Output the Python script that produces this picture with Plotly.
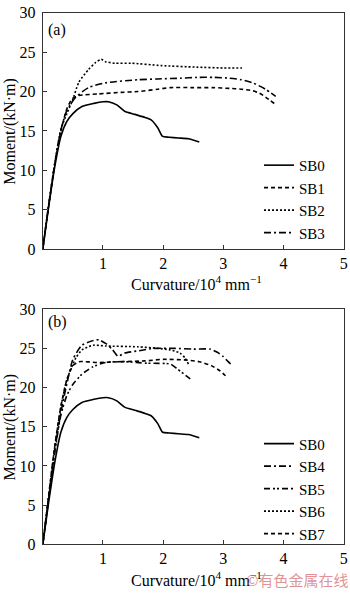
import plotly.graph_objects as go

W, H = 350, 597

# ---------------- data (curvature in 10^4 mm^-1, moment in kN·m) ----------------
sb0_x = [0, 0.1, 0.2, 0.3, 0.4, 0.5, 0.65, 0.85, 1.0, 1.09, 1.23, 1.36, 1.53, 1.7, 1.8, 1.91, 1.99, 2.1, 2.25, 2.42, 2.6]
sb0_y = [0, 5.5, 10.5, 14.3, 16.2, 17.2, 18.1, 18.5, 18.7, 18.7, 18.3, 17.5, 17.1, 16.7, 16.4, 15.4, 14.3, 14.2, 14.1, 14.0, 13.6]

sb1_x = [0, 0.1, 0.2, 0.3, 0.4, 0.49, 0.6, 0.93, 1.3, 1.58, 1.91, 2.12, 2.5, 2.83, 3.1, 3.3, 3.49, 3.6, 3.7, 3.86]
sb1_y = [0, 5.6, 10.8, 15.0, 17.8, 19.1, 19.5, 19.7, 19.9, 20.0, 20.3, 20.5, 20.5, 20.5, 20.4, 20.3, 20.1, 19.8, 19.3, 18.4]

sb2_x = [0, 0.1, 0.2, 0.3, 0.4, 0.49, 0.6, 0.76, 0.88, 0.97, 1.04, 1.2, 1.47, 1.97, 2.56, 3.0, 3.31]
sb2_y = [0, 5.8, 11.0, 15.2, 17.2, 18.8, 21.2, 22.8, 23.7, 24.1, 23.8, 23.6, 23.6, 23.3, 23.1, 23.0, 23.0]

sb3_x = [0, 0.1, 0.2, 0.3, 0.4, 0.55, 0.76, 1.04, 1.58, 1.91, 2.3, 2.56, 2.85, 3.1, 3.3, 3.49, 3.7, 3.87]
sb3_y = [0, 5.7, 10.9, 15.1, 17.6, 19.3, 20.5, 21.1, 21.5, 21.6, 21.7, 21.8, 21.8, 21.7, 21.5, 21.1, 20.3, 19.4]

sb4_x = [0, 0.1, 0.2, 0.3, 0.4, 0.5, 0.65, 0.8, 0.93, 1.05, 1.15, 1.25, 1.36, 1.6, 1.85, 2.2, 2.5, 2.78, 2.9, 2.99, 3.08, 3.15]
sb4_y = [0, 6.0, 12.0, 16.8, 20.5, 23.6, 25.4, 25.9, 26.1, 25.6, 24.9, 24.0, 24.4, 24.7, 25.0, 25.0, 24.9, 24.9, 24.5, 24.0, 23.3, 22.8]

sb5_x = [0, 0.1, 0.2, 0.3, 0.4, 0.49, 0.65, 0.82, 1.04, 1.36, 1.74, 2.12, 2.23, 2.35, 2.45]
sb5_y = [0, 6.0, 11.8, 16.5, 19.0, 20.3, 21.7, 22.6, 23.2, 23.3, 23.1, 23.0, 22.4, 21.7, 21.1]

sb6_x = [0, 0.1, 0.2, 0.3, 0.4, 0.55, 0.65, 0.84, 1.04, 1.58, 1.91, 2.12, 2.28, 2.36, 2.42]
sb6_y = [0, 6.3, 12.5, 17.5, 21.0, 23.8, 24.8, 25.4, 25.3, 25.2, 25.0, 24.8, 24.4, 23.8, 23.0]

sb7_x = [0, 0.1, 0.2, 0.3, 0.4, 0.5, 0.6, 0.9, 1.3, 1.7, 2.0, 2.4, 2.6, 2.8, 2.95, 3.05]
sb7_y = [0, 6.4, 12.6, 17.6, 21.0, 22.8, 23.3, 23.2, 23.3, 23.4, 23.6, 23.5, 23.3, 22.8, 22.1, 21.4]

x_ticks = [1, 2, 3, 4, 5]
y_ticks = [0, 5, 10, 15, 20, 25, 30]

FONT = "Liberation Serif"
LW = 1.6

def px_x(p):
    return p / W

def px_y(p):
    return 1 - p / H

fig = go.Figure()

top_series = [
    ("SB0", sb0_x, sb0_y, "solid"),
    ("SB1", sb1_x, sb1_y, "4px,3px"),
    ("SB2", sb2_x, sb2_y, "2px,2px"),
    ("SB3", sb3_x, sb3_y, "7px,3px,2px,3px"),
]
bot_series = [
    ("SB0", sb0_x, sb0_y, "solid"),
    ("SB4", sb4_x, sb4_y, "7px,3px,2px,3px"),
    ("SB5", sb5_x, sb5_y, "6px,3px,2px,2px,2px,3px"),
    ("SB6", sb6_x, sb6_y, "2px,2px"),
    ("SB7", sb7_x, sb7_y, "4px,3px"),
]

for name, xs, ys, dash in top_series:
    fig.add_trace(go.Scatter(x=xs, y=ys, name=name, mode="lines",
                             line=dict(color="black", width=LW, dash=dash, shape="spline", smoothing=0.6),
                             xaxis="x", yaxis="y", legend="legend"))
for name, xs, ys, dash in bot_series:
    fig.add_trace(go.Scatter(x=xs, y=ys, name=name, mode="lines",
                             line=dict(color="black", width=LW, dash=dash, shape="spline", smoothing=0.6),
                             xaxis="x2", yaxis="y2", legend="legend2"))

xdom = [px_x(43.3), px_x(347.7)]
axis_common = dict(showline=True, mirror=True, linecolor="#333", linewidth=1,
                   ticks="inside", ticklen=4, tickcolor="#333", showgrid=False,
                   zeroline=False, ticklabeloverflow="allow",
                   tickfont=dict(family=FONT, size=16, color="black"))

LEG_FONT = dict(family=FONT, size=15, color="black")

fig.update_layout(
    width=W, height=H,
    margin=dict(l=0, r=0, t=0, b=0),
    paper_bgcolor="white", plot_bgcolor="white",
    font=dict(family=FONT, size=16, color="black"),
    xaxis=dict(domain=xdom, range=[0, 5], tickvals=x_ticks, anchor="y", **axis_common),
    yaxis=dict(domain=[px_y(248), px_y(5)], range=[0, 30], tickvals=y_ticks, anchor="x",
               ticklabelstandoff=3, **axis_common),
    xaxis2=dict(domain=xdom, range=[0, 5], tickvals=x_ticks, anchor="y2", **axis_common),
    yaxis2=dict(domain=[px_y(552), px_y(310)], range=[0, 30], tickvals=y_ticks, anchor="x2",
                ticklabelstandoff=3, **axis_common),
    legend=dict(x=px_x(262), y=px_y(196.5), xanchor="left", yanchor="middle",
                bgcolor="rgba(0,0,0,0)", borderwidth=0, itemwidth=30,
                font=LEG_FONT, tracegroupgap=0),
    legend2=dict(x=px_x(262), y=px_y(495), xanchor="left", yanchor="middle",
                 bgcolor="rgba(0,0,0,0)", borderwidth=0, itemwidth=30,
                 font=LEG_FONT, tracegroupgap=0),
    showlegend=True,
)

annotations = [
    dict(text="(a)", x=px_x(58), y=px_y(23)),
    dict(text="(b)", x=px_x(58), y=px_y(323)),
    dict(text="Moment/(kN·m)", x=px_x(10), y=px_y(126.5), textangle=-90),
    dict(text="Moment/(kN·m)", x=px_x(10), y=px_y(431), textangle=-90),
    dict(text="Curvature/10<sup>4</sup> mm<sup>−1</sup>", x=px_x(199), y=px_y(283)),
    dict(text="Curvature/10<sup>4</sup> mm<sup>−1</sup>", x=px_x(199), y=px_y(588)),
]
for a in annotations:
    fig.add_annotation(xref="paper", yref="paper", showarrow=False,
                       xanchor="center", yanchor="middle",
                       font=dict(family=FONT, size=16, color="black"), **a)

fig.add_annotation(xref="paper", yref="paper", showarrow=False, xanchor="center", yanchor="middle",
                   x=px_x(300), y=px_y(588), text="©有色金属在线",
                   font=dict(family="Noto Sans CJK SC", size=15, color="rgba(215,110,110,0.75)"))

fig.write_html("out.html")
